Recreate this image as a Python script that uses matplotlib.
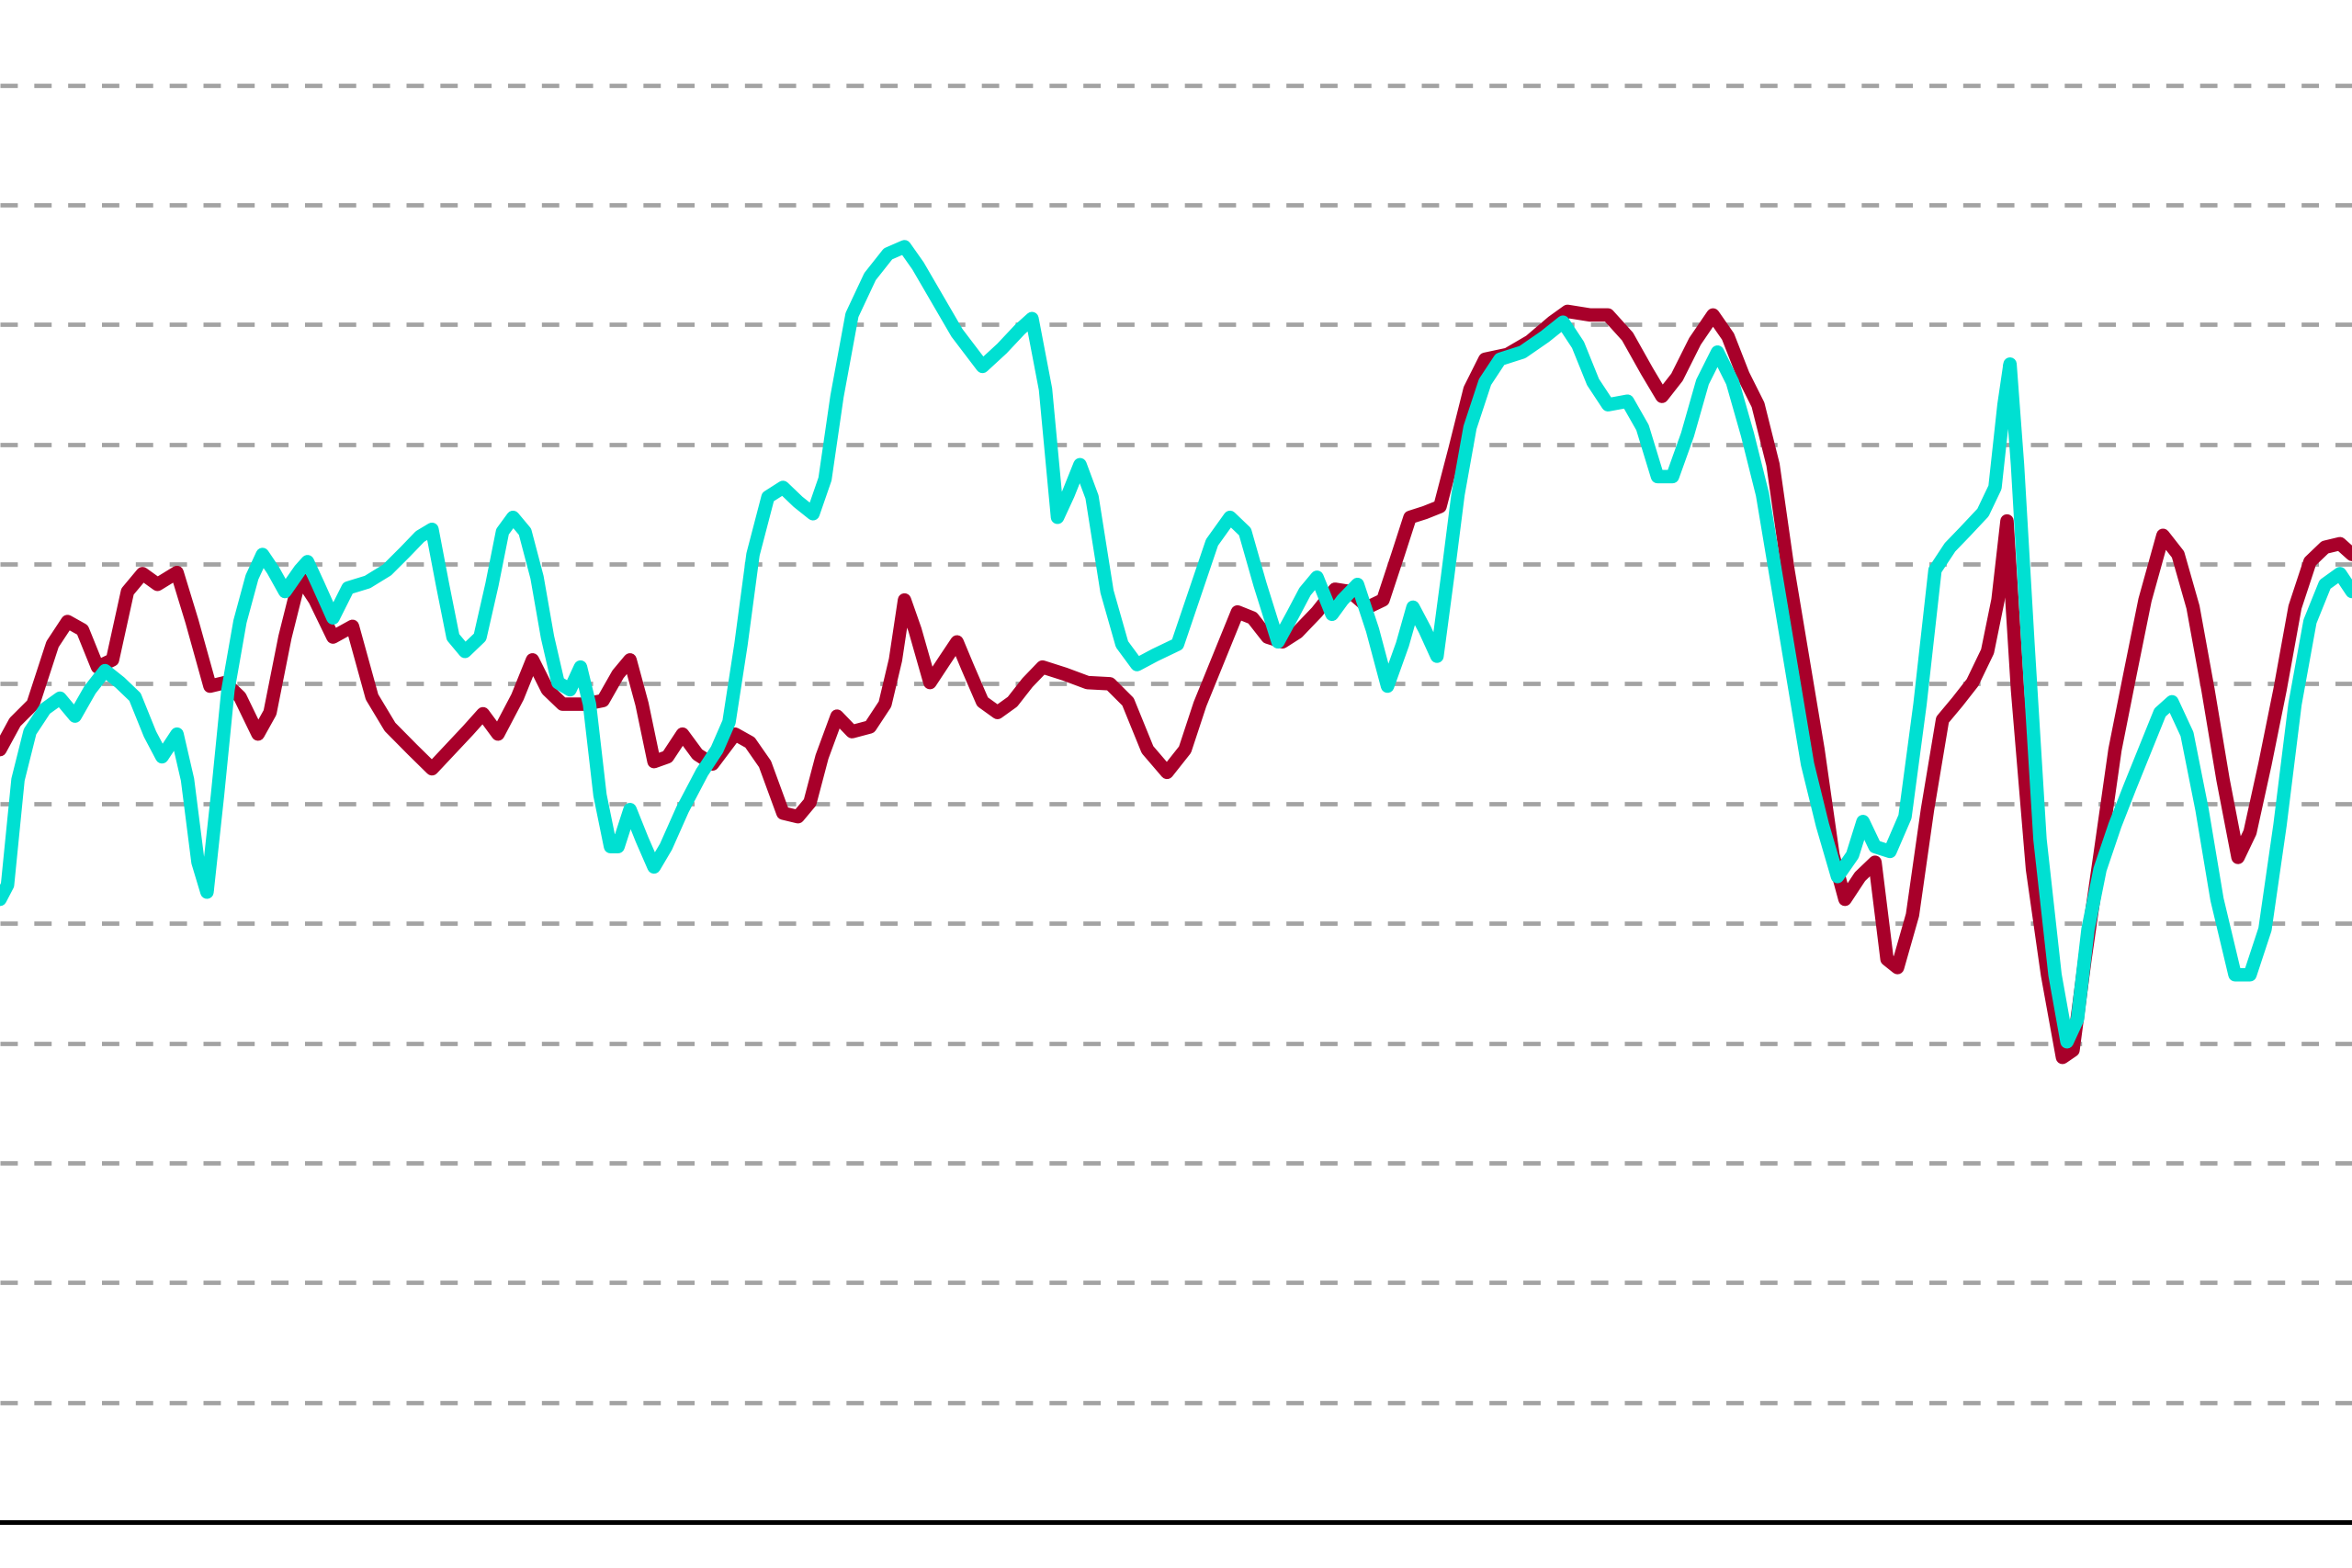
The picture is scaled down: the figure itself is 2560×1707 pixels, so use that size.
import matplotlib
matplotlib.use("Agg")
import matplotlib.pyplot as plt

# series A (crimson)
red_x = [0, 10, 22, 35, 45, 55, 65, 75, 85, 95, 105, 118, 128, 140, 150, 160, 172, 180, 190, 200,
         210, 222, 235, 248, 260, 275, 288, 300, 312, 322, 332, 345, 355, 365, 375, 390, 402, 412,
         420, 428, 436, 445, 455, 465, 475, 490, 500, 510, 522, 532, 540, 548, 558, 568, 580, 590,
         597, 603, 610, 620, 630, 638, 645, 655, 665, 675, 685, 695, 710, 725, 740, 752, 765, 778,
         790, 800, 812, 825, 835, 845, 855, 865, 878, 890, 900, 912, 922, 932, 940, 950, 960, 970,
         980, 990, 1005, 1020, 1035, 1045, 1060, 1072, 1085, 1098, 1108, 1118, 1130, 1142, 1152,
         1162, 1172, 1182, 1192, 1202, 1212, 1222, 1230, 1240, 1250, 1258, 1265, 1275, 1285, 1295,
         1305, 1315, 1325, 1332, 1338, 1345, 1355, 1365, 1375, 1382, 1390, 1400, 1410, 1420, 1430,
         1442, 1452, 1462, 1472, 1482, 1492, 1500, 1510, 1520, 1530, 1540, 1550, 1560, 1568]
red_y = [54.5, 56.8, 58.3, 63.3, 65.2, 64.5, 61.4, 62.0, 67.7, 69.2, 68.3, 69.3, 65.2, 59.8, 60.1,
         58.9, 55.8, 57.6, 63.9, 68.9, 67.0, 63.9, 64.8, 58.9, 56.4, 54.5, 52.9, 54.5, 56.1, 57.5,
         55.8, 58.9, 62.0, 59.5, 58.3, 58.3, 58.6, 60.8, 62.0, 58.3, 53.5, 53.9, 55.8, 54.1, 53.3,
         55.8, 55.1, 53.3, 49.2, 48.9, 50.1, 53.9, 57.3, 56.0, 56.4, 58.3, 62.0, 67.0, 64.5, 60.1,
         62.0, 63.5, 61.4, 58.5, 57.6, 58.5, 60.1, 61.4, 60.8, 60.1, 60.0, 58.5, 54.5, 52.6, 54.5,
         58.3, 62.0, 66.0, 65.5, 63.9, 63.5, 64.3, 66.0, 67.9, 67.7, 66.4, 67.0, 70.8, 73.9, 74.3,
         74.8, 79.6, 84.6, 87.1, 87.5, 88.6, 90.2, 91.1, 90.8, 90.8, 89.0, 86.1, 84.0, 85.6, 88.6,
         90.8, 89.0, 85.8, 83.3, 78.3, 69.5, 62.0, 54.5, 45.7, 42.0, 43.9, 45.1, 37.0, 36.3, 40.7,
         49.5, 57.0, 58.5, 60.1, 62.7, 67.0, 73.6, 59.5, 44.5, 35.7, 28.8, 29.4, 37.0, 45.7, 54.5,
         60.8, 67.0, 72.4, 70.8, 66.4, 59.5, 52.0, 45.5, 47.6, 53.3, 59.5, 66.4, 70.2, 71.4, 71.7,
         70.8]

# series B (turquoise)
cyan_x = [0, 5, 12, 20, 30, 40, 50, 60, 70, 80, 90, 100, 108, 118, 125, 132, 138, 145, 152, 160,
          168, 175, 182, 190, 200, 205, 212, 222, 232, 245, 258, 270, 280, 288, 295, 302, 310, 320,
          328, 335, 342, 350, 358, 365, 372, 380, 387, 393, 400, 407, 412, 420, 428, 436, 444, 455,
          468, 478, 486, 494, 502, 512, 522, 532, 542, 550, 558, 568, 580, 592, 603, 612, 625, 638,
          655, 668, 680, 688, 697, 705, 712, 720, 728, 738, 748, 758, 770, 785, 795, 808, 820, 830,
          840, 852, 862, 870, 878, 888, 895, 905, 915, 925, 935, 942, 950, 958, 965, 972, 980, 990,
          1000, 1015, 1030, 1042, 1052, 1062, 1072, 1085, 1095, 1105, 1115, 1125, 1135, 1145, 1155,
          1165, 1175, 1185, 1195, 1205, 1215, 1225, 1235, 1242, 1250, 1260, 1270, 1280, 1290, 1300,
          1310, 1322, 1330, 1336, 1340, 1345, 1352, 1360, 1370, 1378, 1385, 1392, 1400, 1410, 1420,
          1430, 1440, 1448, 1458, 1468, 1478, 1490, 1500, 1510, 1520, 1530, 1540, 1550, 1560, 1568]
cyan_y = [42.0, 43.2, 52.0, 56.0, 57.9, 58.8, 57.3, 59.5, 61.1, 60.1, 58.9, 55.8, 53.9, 55.8, 52.0,
          45.1, 42.6, 50.7, 59.5, 65.2, 68.9, 70.8, 69.5, 67.7, 69.5, 70.2, 68.3, 65.5, 68.0, 68.5,
          69.5, 71.0, 72.3, 72.9, 68.3, 63.9, 62.7, 63.9, 68.3, 72.7, 73.9, 72.7, 68.9, 63.9, 60.1,
          59.5, 61.4, 58.3, 50.7, 46.4, 46.4, 49.5, 47.0, 44.7, 46.4, 49.5, 52.6, 54.5, 56.8, 63.3,
          70.8, 75.6, 76.4, 75.2, 74.2, 77.1, 84.0, 90.8, 94.0, 95.9, 96.5, 94.9, 92.1, 89.3, 86.5,
          88.0, 89.6, 90.5, 84.6, 73.9, 75.8, 78.3, 75.6, 67.7, 63.3, 61.6, 62.4, 63.3, 67.0, 71.8,
          73.9, 72.7, 68.3, 63.5, 65.8, 67.7, 68.9, 65.8, 67.0, 68.3, 64.5, 59.8, 63.3, 66.4, 64.5,
          62.3, 68.9, 75.8, 81.4, 85.2, 87.1, 87.7, 89.0, 90.2, 88.3, 85.2, 83.3, 83.6, 81.4, 77.3,
          77.3, 80.8, 85.2, 87.7, 85.2, 80.8, 75.8, 68.3, 60.8, 53.3, 48.2, 43.9, 45.7, 48.5, 46.4,
          46.0, 48.9, 58.3, 69.5, 71.4, 72.7, 74.3, 76.4, 83.3, 86.7, 78.3, 63.3, 47.0, 35.7, 30.1,
          32.0, 39.5, 44.5, 48.2, 51.4, 54.5, 57.6, 58.5, 55.8, 49.5, 42.0, 35.7, 35.7, 39.5, 48.2,
          58.3, 65.2, 68.3, 69.2, 67.7]

grid_levels = [0, 10, 20, 30, 40, 50, 60, 70, 80, 90, 100, 110]

fig = plt.figure(figsize=(25.6, 17.07), dpi=100)
ax = fig.add_axes([0, 0.0293, 1, 0.9707])

# dashed horizontal guides
for g in grid_levels:
    ax.axhline(g, color="#a3a3a3", linewidth=3.4, linestyle=(0, (4.0, 3.8)), zorder=1)

ax.plot(red_x, red_y, color="#a8002a", linewidth=10.5, solid_joinstyle="round",
        solid_capstyle="round", zorder=3)
ax.plot(cyan_x, cyan_y, color="#00e0d2", linewidth=10.5, solid_joinstyle="round",
        solid_capstyle="round", zorder=4)

ax.set_xlim(0, 1568)
ax.set_ylim(-10, 117.1)
ax.set_xticks([])
ax.set_yticks([])
for side in ["top", "left", "right"]:
    ax.spines[side].set_visible(False)
ax.spines["bottom"].set_color("black")
ax.spines["bottom"].set_linewidth(3.6)

fig.savefig("out.png", dpi=100)
